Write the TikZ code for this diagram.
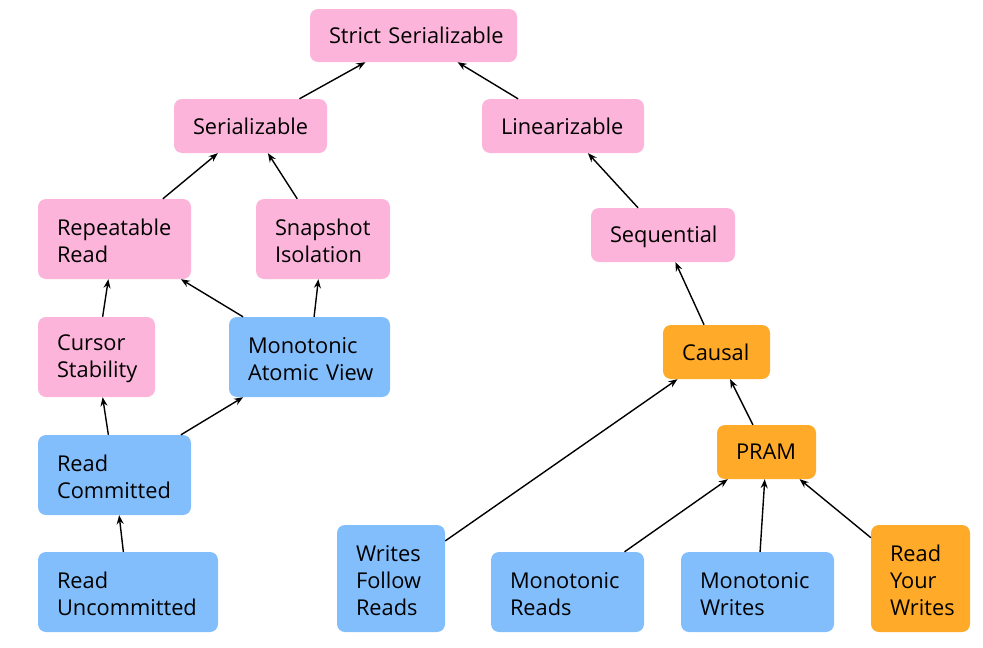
\documentclass[tikz,border=0pt]{standalone}
\usepackage{fontspec}
\setmainfont{Open Sans}
\usetikzlibrary{arrows.meta}
\definecolor{pinkc}{RGB}{253,180,218}
\definecolor{bluec}{RGB}{130,190,252}
\definecolor{orangec}{RGB}{255,170,40}
\tikzset{
  box/.style={rounded corners=8pt, inner xsep=19pt, inner ysep=0pt, align=left,
    font=\fontsize{21.8pt}{27pt}\selectfont, text=black},
  pk/.style={box, fill=pinkc},
  bl/.style={box, fill=bluec},
  og/.style={box, fill=orangec},
  conn/.style={-{Stealth[length=9pt,width=7pt]}, line width=1.4pt, black},
}
\newcommand{\bx}[7]{\node[#1, text width=#5pt-38pt, minimum height=#6pt] (#2) at (#3,#4) {#7\par\vspace{-4pt}};}
\begin{document}
\begin{tikzpicture}[x=1pt,y=-1pt]
\useasboundingbox (0,0) rectangle (983,648);
\bx{pk}{strict}{413.5}{35.5}{207}{53}{\mbox{Strict Serializable}}
\bx{pk}{ser}{250.5}{126}{153}{54}{\mbox{Serializable}}
\bx{pk}{lin}{563}{126}{162}{54}{\mbox{Linearizable}}
\bx{pk}{rr}{114.5}{239}{153}{80}{Repeatable\\Read}
\bx{pk}{si}{323}{239}{134}{80}{Snapshot\\Isolation}
\bx{pk}{seq}{663}{235}{144}{54}{\mbox{Sequential}}
\bx{pk}{cs}{96.5}{357}{117}{80}{Cursor\\Stability}
\bx{bl}{mav}{309.5}{357}{161}{80}{Monotonic\\\mbox{Atomic View}}
\bx{og}{causal}{716.5}{352}{107}{54}{Causal}
\bx{bl}{rc}{114.5}{475}{153}{80}{Read\\Committed}
\bx{og}{pram}{766.5}{452}{99}{54}{PRAM}
\bx{bl}{ru}{128}{592}{180}{80}{Read\\Uncommitted}
\bx{bl}{wfr}{391}{578.5}{108}{107}{Writes\\Follow\\Reads}
\bx{bl}{mr}{567.5}{592}{153}{80}{Monotonic\\Reads}
\bx{bl}{mw}{757.5}{592}{153}{80}{Monotonic\\Writes}
\bx{og}{ryw}{920.5}{578.5}{99}{107}{Read\\Your\\Writes}
\draw[conn] (ser) -- (strict);
\draw[conn] (lin) -- (strict);
\draw[conn] (rr) -- (ser);
\draw[conn] (si) -- (ser);
\draw[conn] (cs) -- (rr);
\draw[conn] (mav) -- (rr);
\draw[conn] (mav) -- (si);
\draw[conn] (rc) -- (cs);
\draw[conn] (rc) -- (mav);
\draw[conn] (ru) -- (rc);
\draw[conn] (seq) -- (lin);
\draw[conn] (causal) -- (seq);
\draw[conn] (pram) -- (causal);
\draw[conn] (wfr) -- (causal);
\draw[conn] (mr) -- (pram);
\draw[conn] (mw) -- (pram);
\draw[conn] (ryw) -- (pram);
\end{tikzpicture}
\end{document}
